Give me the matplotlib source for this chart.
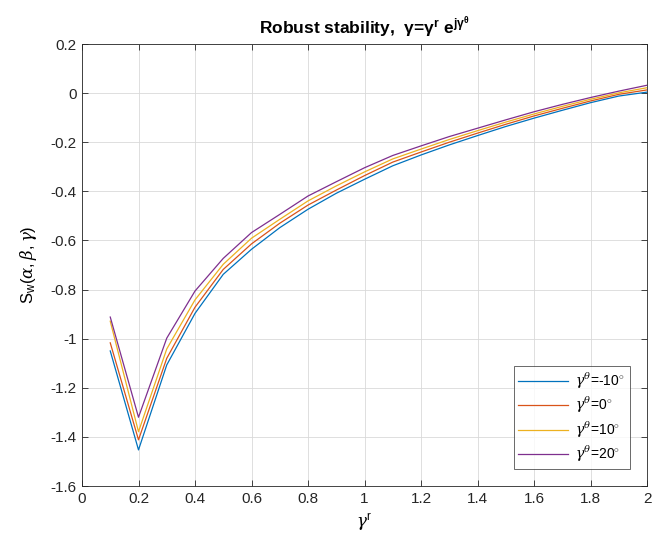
import matplotlib
matplotlib.use("Agg")
import matplotlib.pyplot as plt
import numpy as np

plt.rcParams['font.family'] = ['Liberation Sans', 'DejaVu Sans']
plt.rcParams['mathtext.fontset'] = 'custom'
plt.rcParams['mathtext.rm'] = 'Liberation Sans'
plt.rcParams['mathtext.it'] = 'DejaVu Serif:italic'
plt.rcParams['mathtext.bf'] = 'Liberation Sans:bold'

gamma_r = [0.1, 0.2, 0.3, 0.4, 0.5, 0.6, 0.7, 0.8, 0.9, 1.0,
           1.1, 1.2, 1.3, 1.4, 1.5, 1.6, 1.7, 1.8, 1.9, 2.0]

s_m10 = [-1.050, -1.453, -1.107, -0.897, -0.738, -0.636, -0.548, -0.473, -0.408, -0.351,
         -0.296, -0.252, -0.211, -0.173, -0.136, -0.102, -0.070, -0.039, -0.012, 0.004]
s_0 = [-1.017, -1.412, -1.080, -0.872, -0.718, -0.614, -0.530, -0.456, -0.395, -0.336,
       -0.281, -0.240, -0.200, -0.163, -0.127, -0.093, -0.062, -0.032, -0.005, 0.013]
s_10 = [-0.929, -1.379, -1.042, -0.842, -0.697, -0.591, -0.514, -0.439, -0.378, -0.321,
        -0.268, -0.228, -0.189, -0.153, -0.118, -0.085, -0.054, -0.025, 0.001, 0.022]
s_20 = [-0.912, -1.320, -0.998, -0.806, -0.673, -0.568, -0.494, -0.419, -0.361, -0.304,
        -0.254, -0.215, -0.177, -0.143, -0.109, -0.076, -0.046, -0.018, 0.008, 0.032]

series = [s_m10, s_0, s_10, s_20]
labels = [r'$\gamma^{\theta}$=-10$^{\circ}$', r'$\gamma^{\theta}$=0$^{\circ}$',
          r'$\gamma^{\theta}$=10$^{\circ}$', r'$\gamma^{\theta}$=20$^{\circ}$']
colors = ['#0072BD', '#D95319', '#EDB120', '#7E2F8E']

fig = plt.figure(figsize=(6.56, 5.49), dpi=100)
ax = fig.add_axes([82/656, 1-486/549, (647-82)/656, (486-44)/549])

for s, lab, c in zip(series, labels, colors):
    ax.plot(gamma_r, s, color=c, lw=0.9, label=lab)

ax.set_xlim(0, 2)
ax.set_ylim(-1.6, 0.2)
ax.set_xticks(np.arange(0, 2.01, 0.2))
ax.set_xticklabels(['0', '0.2', '0.4', '0.6', '0.8', '1', '1.2', '1.4', '1.6', '1.8', '2'])
ax.set_yticks(np.arange(-1.6, 0.21, 0.2))
ax.set_yticklabels(['-1.6', '-1.4', '-1.2', '-1', '-0.8', '-0.6', '-0.4', '-0.2', '0', '0.2'])
ax.grid(True, color='#d9d9d9', lw=0.6)
ax.set_axisbelow(True)
ax.tick_params(direction='in', top=True, right=True, length=4, width=0.6,
               labelsize=11, colors='#262626', pad=4)
for sp in ax.spines.values():
    sp.set_linewidth(0.6)
    sp.set_color('#262626')

ax.set_title(r'Robust stability,  $\mathbf{\gamma}$=$\mathbf{\gamma}^{\mathbf{r}}$ e$^{\mathbf{j}\mathbf{\gamma}^{\mathbf{\theta}}}$',
             fontsize=12.5, fontweight='bold', pad=7)
ax.set_xlabel(r'$\gamma^{\mathrm{r}}$', fontsize=12, labelpad=4)
ax.set_ylabel(r'S$_{\mathrm{w}}$$(\alpha,\beta,\gamma)$', fontsize=12, labelpad=8)

leg = ax.legend(loc='lower right', fontsize=10, frameon=True, fancybox=False,
                edgecolor='#262626', handlelength=3.6, borderpad=0.35,
                labelspacing=0.3, handletextpad=0.5, borderaxespad=0)
leg.get_frame().set_linewidth(0.6)
leg.set_bbox_to_anchor((630/656, 1-469/549), transform=fig.transFigure)

fig.savefig('out.png', dpi=100)
